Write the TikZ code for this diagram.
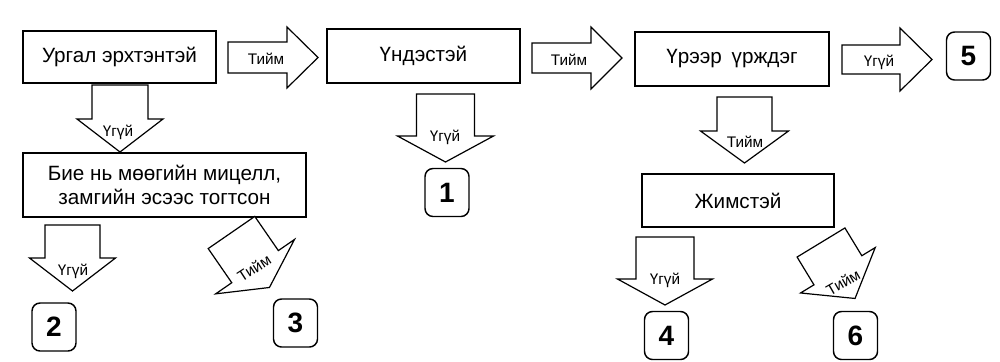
\documentclass[tikz,border=0pt]{standalone}
\usepackage{fontspec}
\setmainfont{Liberation Sans}
\begin{document}
\begin{tikzpicture}[x=0.75pt,y=-0.75pt,
  box/.style={draw,line width=1.9pt,inner sep=0pt,align=center,font=\fontsize{15.5}{18.5}\selectfont},
  numbox/.style={draw,line width=1.1pt,rounded corners=6pt,inner sep=0pt,minimum width=33pt,minimum height=36pt,font=\fontsize{21}{22}\selectfont\bfseries},
  blockarrow/.style={draw,line width=0.9pt,fill=white,line join=miter},
  lbl/.style={inner sep=0pt,font=\fontsize{11.5}{13}\selectfont},
  pics/barrow/.style args={#1/#2/#3/#4}{code={
    \draw[blockarrow] (0,-#1) -- (#2,-#1) -- (#2,-#3) -- ({#2+#4},0) -- (#2,#3) -- (#2,#1) -- (0,#1) -- cycle;}}
]
\useasboundingbox (0,0) rectangle (1000,361);
% boxes
\node[box,minimum width=144.75pt,minimum height=39pt] (ургал) at (119.5,57) {Ургал эрхтэнтэй};
\node[box,minimum width=144.75pt,minimum height=40.5pt] (үндэс) at (423.5,56) {Үндэстэй};
\node[box,minimum width=145.5pt,minimum height=40.5pt] (үрээр) at (732,59) {Үрээр\hspace{0.2em} үрждэг};
\node[box,minimum width=212.25pt,minimum height=48pt] (бие) at (164.5,185) {Бие нь мөөгийн мицелл,\\замгийн эсээс тогтсон};
\node[box,minimum width=144pt,minimum height=39.75pt] (жимс) at (738,200.5) {Жимстэй};
% numbers
\node[numbox] (n1) at (447,192.5) {1};
\node[numbox] (n2) at (54,327) {2};
\node[numbox] (n3) at (295.5,323) {3};
\node[numbox] (n4) at (666.5,335.5) {4};
\node[numbox] (n5) at (968.5,56) {5};
\node[numbox] (n6) at (855.5,335.5) {6};
% right arrows
\pic at (228,57.5) {barrow={15.5/59/30.5/31}};
\node[lbl] (t1) at (266,59) {Тийм};
\pic at (532,58) {barrow={15/59/31/31}};
\node[lbl] (t2) at (569,60) {Тийм};
\pic at (842,59.5) {barrow={14.5/58/31.5/32}};
\node[lbl] (g3) at (879,62) {Үгүй};
% down arrows
\pic[rotate=-90] at (120,85) {barrow={28/34/43/33}};
\node[lbl] (g1) at (118,132) {Үгүй};
\pic[rotate=-90] at (445.5,94) {barrow={29/42/48/26}};
\node[lbl] (g2) at (445,137) {Үгүй};
\pic[rotate=-90] at (744.5,97) {barrow={27.5/34/44/32}};
\node[lbl] (t3) at (745,142) {Тийм};
\pic[rotate=-90] at (72.5,225) {barrow={27.5/33/43/33}};
\node[lbl] (g4) at (73,271) {Үгүй};
\pic[rotate=-90] at (665,237) {barrow={29/42/47.5/26}};
\node[lbl] (g5) at (665,280) {Үгүй};
% diagonal arrows
\pic[rotate=-55.4] at (231.5,232.5) {barrow={28.3/41.5/47.9/25.3}};
\node[lbl,rotate=33] (t4) at (254,268) {Тийм};
\pic[rotate=-58.7] at (821,242.5) {barrow={28/32.5/43.7/33}};
\node[lbl,rotate=30] (t5) at (843,282) {Тийм};
\end{tikzpicture}
\end{document}
